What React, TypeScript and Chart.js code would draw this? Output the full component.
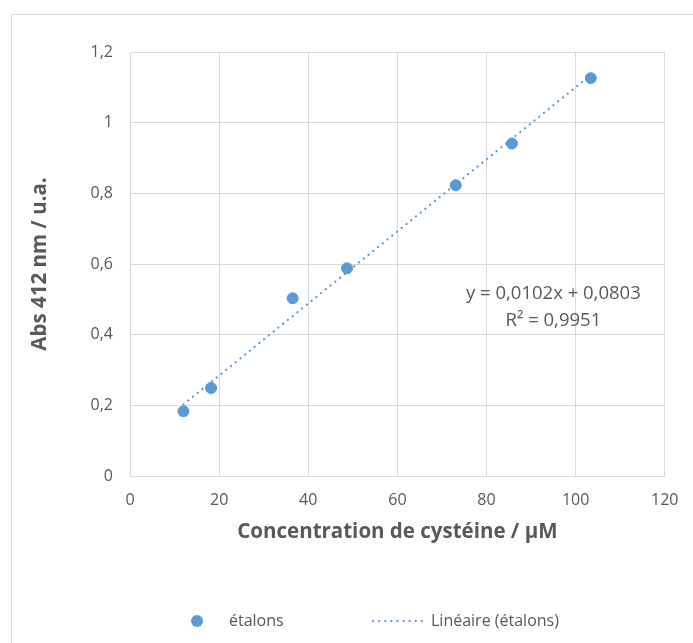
import React, { useEffect, useRef } from "react";
import { Chart, registerables } from "chart.js";

Chart.register(...registerables);

const concentrations = [12, 18.2, 36.5, 48.7, 73.1, 85.7, 103.4];
const absorbances = [0.183, 0.249, 0.503, 0.588, 0.823, 0.941, 1.126];
const slope = 0.0102;
const intercept = 0.0803;
const equationText = "y = 0,0102x + 0,0803";
const r2Text = "R² = 0,9951";
const seriesName = "étalons";
const trendName = "Linéaire (étalons)";
const xTitle = "Concentration de cystéine / µM";
const yTitle = "Abs 412 nm / u.a.";

const BLUE = "#5B9BD5";
const GRAY_TEXT = "#595959";
const GRID = "#D9D9D9";
const FONT = "'Open Sans', 'Noto Sans', sans-serif";

export default function App() {
  const ref = useRef<HTMLCanvasElement | null>(null);

  useEffect(() => {
    if (!ref.current) return;
    const xMin = Math.min(...concentrations);
    const xMax = Math.max(...concentrations);
    const trend = [
      { x: xMin, y: slope * xMin + intercept },
      { x: xMax, y: slope * xMax + intercept },
    ];

    const decorPlugin = {
      id: "decor",
      beforeDraw(chart: any) {
        const ctx = chart.ctx;
        ctx.save();
        ctx.fillStyle = "#ffffff";
        ctx.fillRect(0, 0, chart.width, chart.height);
        ctx.strokeStyle = GRID;
        ctx.lineWidth = 1;
        ctx.strokeRect(11.5, 14.5, 1000, 1000);
        ctx.restore();
      },
      afterDraw(chart: any) {
        const ctx = chart.ctx;
        const xs = chart.scales.x;
        const ys = chart.scales.y;
        ctx.save();
        ctx.fillStyle = GRAY_TEXT;
        ctx.font = `18.5px ${FONT}`;
        ctx.textAlign = "center";
        ctx.textBaseline = "middle";
        const cx = xs.getPixelForValue(95);
        ctx.fillText(equationText, cx, ys.getPixelForValue(0.515));
        ctx.fillText(r2Text, cx, ys.getPixelForValue(0.44));

        const ly = 621;
        ctx.fillStyle = BLUE;
        ctx.beginPath();
        ctx.arc(197, ly, 6, 0, Math.PI * 2);
        ctx.fill();
        ctx.fillStyle = GRAY_TEXT;
        ctx.font = `16px ${FONT}`;
        ctx.textAlign = "left";
        ctx.fillText(seriesName, 229, ly);
        ctx.strokeStyle = BLUE;
        ctx.lineWidth = 2.25;
        ctx.lineCap = "round";
        ctx.setLineDash([0.1, 6]);
        ctx.beginPath();
        ctx.moveTo(373, ly);
        ctx.lineTo(425, ly);
        ctx.stroke();
        ctx.setLineDash([]);
        ctx.fillText(trendName, 431, ly);
        ctx.restore();
      },
    };

    const chart = new Chart(ref.current, {
      type: "scatter",
      data: {
        datasets: [
          {
            label: trendName,
            data: trend,
            showLine: true,
            borderColor: BLUE,
            borderWidth: 2.25,
            borderDash: [0.1, 6],
            borderCapStyle: "round",
            pointRadius: 0,
            fill: false,
          } as any,
          {
            label: seriesName,
            data: concentrations.map((c, i) => ({ x: c, y: absorbances[i] })),
            backgroundColor: BLUE,
            borderColor: BLUE,
            borderWidth: 1,
            pointRadius: 5.5,
            showLine: false,
          },
        ],
      },
      options: {
        responsive: false,
        animation: false,
        layout: { padding: { left: 0, top: 52, right: 28, bottom: 97 } },
        plugins: { legend: { display: false }, tooltip: { enabled: false } },
        scales: {
          x: {
            type: "linear",
            min: 0,
            max: 120,
            ticks: {
              stepSize: 20,
              color: GRAY_TEXT,
              font: { family: FONT, size: 16 },
              padding: 14.5,
            },
            grid: { color: GRID, drawTicks: false },
            border: { color: GRID },
            title: {
              display: true,
              text: xTitle,
              color: GRAY_TEXT,
              font: { family: FONT, size: 20.5, weight: "bold" },
              padding: { top: 0, bottom: 1.7 },
            },
            afterFit(scale: any) {
              scale.height = 70;
            },
          },
          y: {
            type: "linear",
            min: 0,
            max: 1.2,
            ticks: {
              stepSize: 0.2,
              color: GRAY_TEXT,
              font: { family: FONT, size: 16 },
              padding: 17,
              callback: (v: any) => String(Math.round(Number(v) * 10) / 10).replace(".", ","),
            },
            grid: { color: GRID, drawTicks: false },
            border: { color: GRID },
            title: {
              display: true,
              text: yTitle,
              color: GRAY_TEXT,
              font: { family: FONT, size: 20.5, weight: "bold" },
              padding: { top: 27.7, bottom: 0 },
            },
            afterFit(scale: any) {
              scale.width = 130;
            },
          },
        },
      },
      plugins: [decorPlugin],
    });
    return () => chart.destroy();
  }, []);

  return (
    <div style={{ position: "absolute", left: 0, top: 0, width: 693, height: 643 }}>
      <canvas ref={ref} width={693} height={643} style={{ display: "block" }} />
    </div>
  );
}
